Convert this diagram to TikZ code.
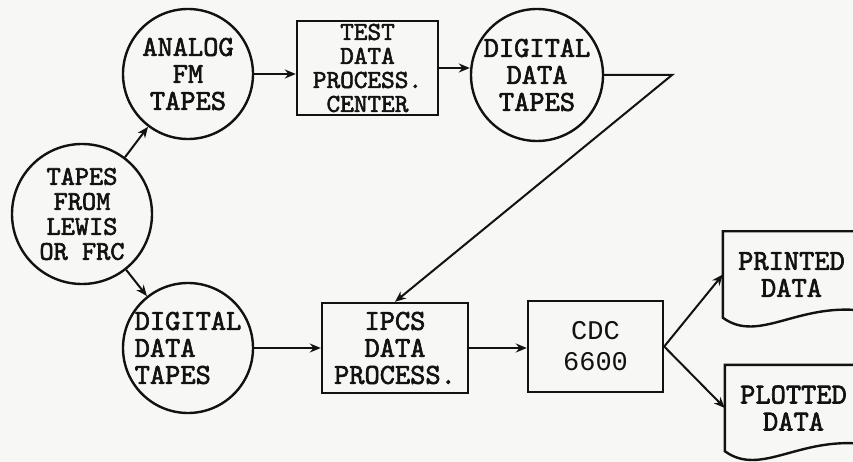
\documentclass[tikz,border=0pt]{standalone}
\usepackage{fontspec}
\newfontfamily\typefont[FakeBold=2.2]{lmmono10-regular.otf}
\newfontfamily\gothicfont{Liberation Mono}
\usepackage{xcolor}
\usepackage{tikz}
\usetikzlibrary{calc}
\usetikzlibrary{arrows.meta}
\definecolor{paper}{RGB}{247,247,245}
\definecolor{ink}{RGB}{18,18,18}

\begin{document}
\begin{tikzpicture}[x=1pt, y=-1pt,
    every node/.style={font=\typefont\fontsize{29}{27}\selectfont, text=ink, align=center},
    tapebox/.style={circle, draw=ink, line width=2.4pt, minimum size=#1, inner sep=0pt},
    tapebox/.default=130pt,
    procbox/.style={rectangle, draw=ink, line width=2.4pt, inner sep=0pt},
    docbox/.style={rectangle, minimum width=137pt, minimum height=86pt, inner sep=0pt},
    flow/.style={ink, line width=2pt, -{Stealth[length=11pt, width=9pt]}}]

    %% --- Paper and frame (pixel units, y downwards) ---
    \fill[paper] (0,0) rectangle (853,462);
    \clip (0,0) rectangle (853,462);

    %% --- Tape reels (circles) ---
    \node[tapebox=140pt, font=\typefont\fontsize{27}{25}\selectfont] (lewis) at (82,214)
          {TAPES\\FROM\\LEWIS\\OR FRC};
    \node[tapebox] (analog) at (188,74) {ANALOG\\FM\\TAPES};
    \node[tapebox=132pt] (digitop) at (537,75) {DIGITAL\\DATA\\TAPES};
    \node[tapebox, align=left] (digibot) at (188,348) {DIGITAL\\DATA\\ TAPES};

    %% --- Processing boxes ---
    \node[procbox, minimum width=141pt, minimum height=94pt,
          font=\typefont\fontsize{26}{24}\selectfont] (testdp) at (367.5,68)
          {TEST\\DATA\\PROCESS.\\CENTER};
    \node[procbox, minimum width=146pt, minimum height=90pt] (ipcs) at (395,348)
          {IPCS\\DATA\\PROCESS.};
    \node[procbox, minimum width=135pt, minimum height=91pt,
          font=\gothicfont\fontsize{27}{31}\selectfont] (cdc) at (595.5,346.5) {CDC\\6600};

    %% --- Output documents (wavy bottom, right side off the page) ---
    \node[docbox] (printed) at (791.5,274.5) {PRINTED\\DATA};
    \node[docbox] (plotted) at (793.5,408) {PLOTTED\\DATA};
    \foreach \d in {printed, plotted} {
        \draw[ink, line width=2.4pt]
            ($(\d.north west)+(150,0)$) -- (\d.north west) -- (\d.south west)
            .. controls ($(\d.south west)+(37,27)$) and ($(\d.south west)+(77,-18)$)
            .. ($(\d.south west)+(147,-6)$);
    }

    %% Corner of the return line
    \coordinate (turn) at (672,75);

    %% --- Flow arrows ---
    \draw[flow] (lewis) -- (analog);
    \draw[flow] (lewis) -- (digibot);
    \draw[flow] (analog.east) -- (analog.east -| testdp.west);
    \draw[flow] (testdp.east) -- (testdp.east -| digitop.west);
    \draw[flow] (digitop.east) -- (turn) -- (ipcs.north);
    \draw[flow] (digibot.east) -- (digibot.east -| ipcs.west);
    \draw[flow] (ipcs.east) -- (ipcs.east -| cdc.west);
    \draw[flow] (cdc.east) -- (printed.west);
    \draw[flow] (cdc.east) -- (plotted.west);

\end{tikzpicture}
\end{document}
